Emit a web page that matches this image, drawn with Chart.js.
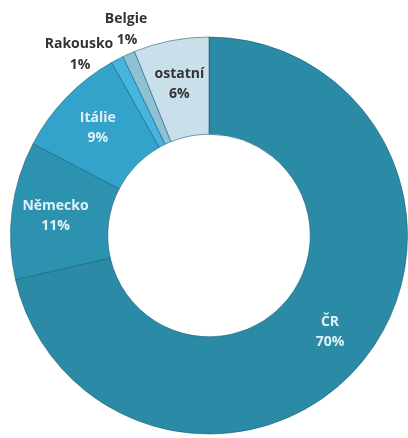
<!DOCTYPE html>
<html>
<head>
<meta charset="utf-8">
<script src="https://cdn.jsdelivr.net/npm/chart.js@4"></script>
<style>
  html, body { margin: 0; padding: 0; background: #fff; }
  #wrap { width: 408px; height: 438px; }
</style>
</head>
<body>
<div id="wrap"><canvas id="kolac"></canvas></div>
<script>
const zeme = ['ČR', 'Německo', 'Itálie', 'Rakousko', 'Belgie', 'ostatní'];
const podil = [70, 11, 9, 1, 1, 6];
const barvy = ['#2b8ba6', '#2d92b0', '#34a3cb', '#45b5de', '#8ec1d4', '#c9e0ea'];

// popisky: uvnitr prstence, male vysece venku nad grafem
const popisky = {
  id: 'popisky',
  afterDatasetsDraw(chart) {
    const ctx = chart.ctx;
    const meta = chart.getDatasetMeta(0);
    ctx.save();
    ctx.font = 'bold 14px "Open Sans", sans-serif';
    ctx.textAlign = 'center';
    ctx.textBaseline = 'middle';
    meta.data.forEach((arc, i) => {
      const txt = podil[i] + '%';
      const p = arc.getProps(['x', 'y', 'startAngle', 'endAngle', 'innerRadius', 'outerRadius']);
      const uhel = (p.startAngle + p.endAngle) / 2;
      const r = p.innerRadius + (p.outerRadius - p.innerRadius) * 0.55;
      let x = p.x + Math.cos(uhel) * r;
      let y = p.y + Math.sin(uhel) * r;
      ctx.fillStyle = '#e2f1f6';
      if (zeme[i] === 'ostatní') {
        ctx.fillStyle = '#333';
      }
      if (zeme[i] === 'Rakousko') {
        ctx.fillStyle = '#333';
        ctx.fillText(zeme[i], 79, 44);
        ctx.fillText(txt, 80, 65);
      } else if (zeme[i] === 'Belgie') {
        ctx.fillStyle = '#333';
        ctx.fillText(zeme[i], 126, 19);
        ctx.fillText(txt, 127, 40);
      } else {
        ctx.fillText(zeme[i], x, y - 10);
        ctx.fillText(txt, x, y + 10);
      }
    });
    ctx.restore();
  }
};

new Chart(document.getElementById('kolac'), {
  type: 'doughnut',
  data: {
    labels: zeme,
    datasets: [{
      data: podil,
      backgroundColor: barvy,
      borderColor: 'rgba(20,90,110,0.55)',
      borderWidth: 1
    }]
  },
  options: {
    responsive: true,
    maintainAspectRatio: false,
    animation: false,
    cutout: '51%',
    layout: { padding: { top: 35, bottom: 2, left: 10, right: 0 } },
    plugins: {
      legend: { display: false },
      tooltip: { enabled: false }
    }
  },
  plugins: [popisky]
});
</script>
</body>
</html>
